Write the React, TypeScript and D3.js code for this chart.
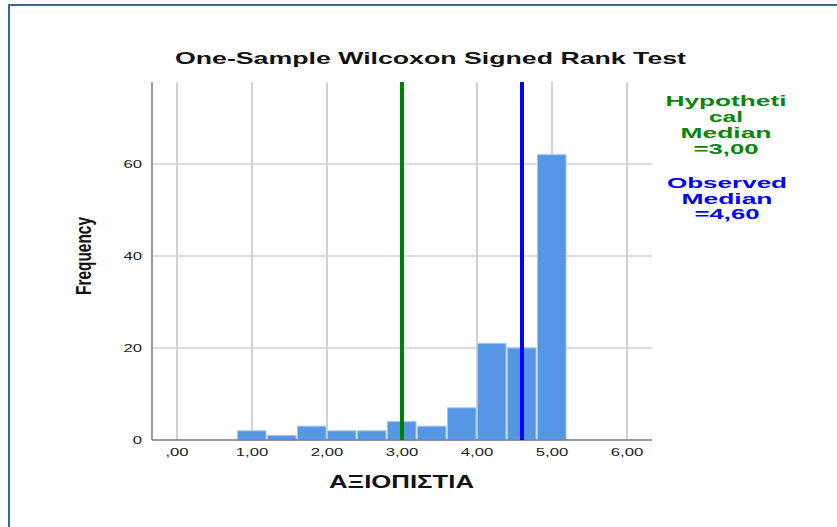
import React from "react";
import * as d3 from "d3";

const binStarts = [0.8, 1.2, 1.6, 2.0, 2.4, 2.8, 3.2, 3.6, 4.0, 4.4, 4.8];
const binEnds = [1.2, 1.6, 2.0, 2.4, 2.8, 3.2, 3.6, 4.0, 4.4, 4.8, 5.2];
const counts = [2, 1, 3, 2, 2, 4, 3, 7, 21, 20, 62];
const xTickValues = [0, 1, 2, 3, 4, 5, 6];
const xTickLabels = [",00", "1,00", "2,00", "3,00", "4,00", "5,00", "6,00"];
const yTickValues = [0, 20, 40, 60];
const yGridValues = [20, 40, 60];
const hypotheticalMedian = 3.0;
const observedMedian = 4.6;
const hypLines = ["Hypotheti", "cal", "Median", "=3,00"];
const obsLines = ["Observed", "Median", "=4,60"];

const FONT = "'Liberation Sans', Arial, sans-serif";
const SX = 1.52;

export default function App() {
  const W = 837;
  const H = 527;
  const x = d3.scaleLinear().domain([-1 / 3, 19 / 3]).range([152, 652]);
  const y = d3.scaleLinear().domain([0, 77.8]).range([440, 82]);
  const top = y(77.8);
  const bottom = y(0);

  const hypWidths = [121, 34, 91, 65];
  const obsWidths = [120, 91, 65];

  return (
    <svg
      width={W}
      height={H}
      style={{ position: "absolute", left: 0, top: 0, background: "#fff" }}
    >
      <rect x={0} y={0} width={W} height={H} fill="#fff" />
      <rect x={9} y={5} width={900} height={600} fill="none" stroke="#3b679b" strokeWidth={2} />

      {/* title */}
      <text
        x={175}
        y={64}
        fontFamily={FONT}
        fontWeight="bold"
        fontSize={17}
        textLength={511}
        lengthAdjust="spacingAndGlyphs"
        fill="#111"
      >
        One-Sample Wilcoxon Signed Rank Test
      </text>

      {/* vertical grid */}
      {xTickValues.map((v) => (
        <line key={"vg" + v} x1={x(v)} x2={x(v)} y1={top} y2={bottom} stroke="#d2d2d2" strokeWidth={2} />
      ))}
      {/* horizontal grid */}
      {yGridValues.map((v) => (
        <line key={"hg" + v} x1={x(-1 / 3)} x2={x(19 / 3)} y1={y(v)} y2={y(v)} stroke="#d2d2d2" strokeWidth={1.5} />
      ))}

      {/* bars */}
      {counts.map((c, i) => (
        <rect
          key={"b" + i}
          x={x(binStarts[i]) + 0.5}
          y={y(c)}
          width={x(binEnds[i]) - x(binStarts[i]) - 1.5}
          height={bottom - y(c)}
          fill="#5596e6"
          stroke="#a7c6ee"
          strokeWidth={1}
        />
      ))}

      {/* axes */}
      <line x1={152} x2={152} y1={top} y2={bottom} stroke="#7a7a7a" strokeWidth={1.5} />
      <line x1={152} x2={652} y1={bottom} y2={bottom} stroke="#7a7a7a" strokeWidth={1.5} />

      {/* median lines */}
      <line
        x1={x(hypotheticalMedian)}
        x2={x(hypotheticalMedian)}
        y1={top}
        y2={bottom}
        stroke="#008000"
        strokeWidth={4}
      />
      <line
        x1={x(observedMedian)}
        x2={x(observedMedian)}
        y1={top}
        y2={bottom}
        stroke="#0000ff"
        strokeWidth={4}
      />

      {/* y tick labels */}
      {yTickValues.map((v) => (
        <g key={"yt" + v} transform={`translate(142,${y(v) + 4}) scale(${SX},1)`}>
          <text textAnchor="end" fontFamily={FONT} fontSize={11} fill="#222">
            {String(v)}
          </text>
        </g>
      ))}

      {/* x tick labels */}
      {xTickValues.map((v, i) => (
        <g key={"xt" + v} transform={`translate(${x(v)},456) scale(${SX},1)`}>
          <text textAnchor="middle" fontFamily={FONT} fontSize={11} fill="#222">
            {xTickLabels[i]}
          </text>
        </g>
      ))}

      {/* axis titles */}
      <text
        x={329}
        y={488}
        fontFamily={FONT}
        fontWeight="bold"
        fontSize={17.5}
        textLength={145}
        lengthAdjust="spacingAndGlyphs"
        fill="#111"
      >
        ΑΞΙΟΠΙΣΤΙΑ
      </text>
      <g transform={`translate(91,256) scale(1.3,1) rotate(-90)`}>
        <text
          x={-39}
          y={0}
          fontFamily={FONT}
          fontSize={16.5}
          fontWeight="bold"
          textLength={78}
          lengthAdjust="spacingAndGlyphs"
          fill="#111"
        >
          Frequency
        </text>
      </g>

      {/* legend */}
      {hypLines.map((t, i) => (
        <text
          key={"h" + i}
          x={726 - hypWidths[i] / 2}
          y={106 + i * 16}
          fontFamily={FONT}
          fontWeight="bold"
          fontSize={15.5}
          textLength={hypWidths[i]}
          lengthAdjust="spacingAndGlyphs"
          fill="#0a850a"
        >
          {t}
        </text>
      ))}
      {obsLines.map((t, i) => (
        <text
          key={"o" + i}
          x={727 - obsWidths[i] / 2}
          y={188 + i * 15.7}
          fontFamily={FONT}
          fontWeight="bold"
          fontSize={15.5}
          textLength={obsWidths[i]}
          lengthAdjust="spacingAndGlyphs"
          fill="#0000ff"
        >
          {t}
        </text>
      ))}
    </svg>
  );
}
